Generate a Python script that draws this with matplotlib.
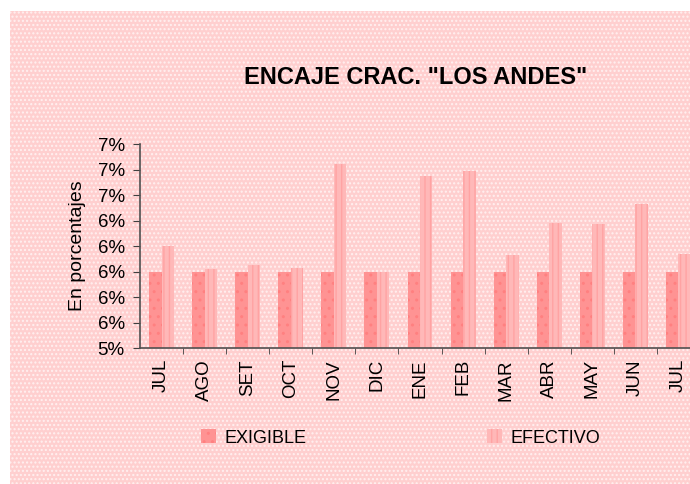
import numpy as np
import matplotlib
matplotlib.use("Agg")
import matplotlib.pyplot as plt
from matplotlib.patches import Rectangle
from matplotlib.ticker import FixedLocator, FuncFormatter

plt.rcParams['font.family'] = ['Liberation Sans', 'DejaVu Sans']
plt.rcParams['hatch.linewidth'] = 1.0

# data (percent)
months = ["JUL", "AGO", "SET", "OCT", "NOV", "DIC", "ENE", "FEB",
          "MAR", "ABR", "MAY", "JUN", "JUL"]
exigible = [6.0, 6.0, 6.0, 6.0, 6.0, 6.0, 6.0, 6.0, 6.0, 6.0, 6.0, 6.0, 6.0]
efectivo = [6.20, 6.02, 6.05, 6.03, 6.84, 6.00, 6.75, 6.79, 6.13, 6.38, 6.37, 6.53, 6.14]
yticks = [5.4, 5.6, 5.8, 6.0, 6.2, 6.4, 6.6, 6.8, 7.0]

fig = plt.figure(figsize=(6.9, 4.84), dpi=100)
fig.patch.set_facecolor("white")

# pink chart area with white dots
bg = Rectangle((10 / 690, -0.05), 1.1, 1.05 - 11 / 484, transform=fig.transFigure,
               facecolor="#FFCFCF", edgecolor="#FFF0F0", hatch="....",
               linewidth=0, zorder=-10)
fig.patches.append(bg)

ax = fig.add_axes([140 / 690, 1 - 348 / 484, 560 / 690, 204 / 484])
ax.set_facecolor("none")

x = np.arange(len(months))
w = 0.29
ax.bar(x - w / 2, exigible, w, color="#FF9393", edgecolor="#FF8080",
       hatch="..", linewidth=0, label="EXIGIBLE", zorder=2)
ax.bar(x + w / 2, efectivo, w, color="#FFB8B8", edgecolor="#FFA3A3",
       hatch="|||", linewidth=0, label="EFECTIVO", zorder=2)

ax.set_xlim(-0.5, len(months) - 0.5)
ax.set_ylim(5.4, 7.0)
ax.yaxis.set_major_locator(FixedLocator(yticks))
ax.yaxis.set_major_formatter(FuncFormatter(lambda v, p: "{:.0f}%".format(v)))

ax.set_xticks(x)
ax.set_xticklabels(months, rotation=90, fontsize=13.5)
ax.xaxis.set_minor_locator(FixedLocator(np.arange(0.5, len(months), 1.0)))
ax.tick_params(axis="x", which="major", length=0, pad=8)
ax.tick_params(axis="x", which="minor", length=4, color="#404040", direction="out")
ax.tick_params(axis="y", length=5, color="#404040", labelsize=13.5, pad=6)

for s in ["top", "right"]:
    ax.spines[s].set_visible(False)
for s in ["left", "bottom"]:
    ax.spines[s].set_color("#505050")
    ax.spines[s].set_linewidth(1.2)

ax.set_ylabel("En porcentajes", fontsize=14, labelpad=8)

fig.text(416 / 690, 1 - 77 / 484, 'ENCAJE CRAC. "LOS ANDES"', ha="center",
         va="center", fontsize=17, fontweight="bold")

fig.legend(loc="center", bbox_to_anchor=(401 / 690, 1 - 438 / 484), ncol=2,
           frameon=False, fontsize=13, handlelength=0.8, handleheight=0.8,
           columnspacing=10, handletextpad=0.5)

fig.savefig("out.png", dpi=100, facecolor=fig.get_facecolor())
